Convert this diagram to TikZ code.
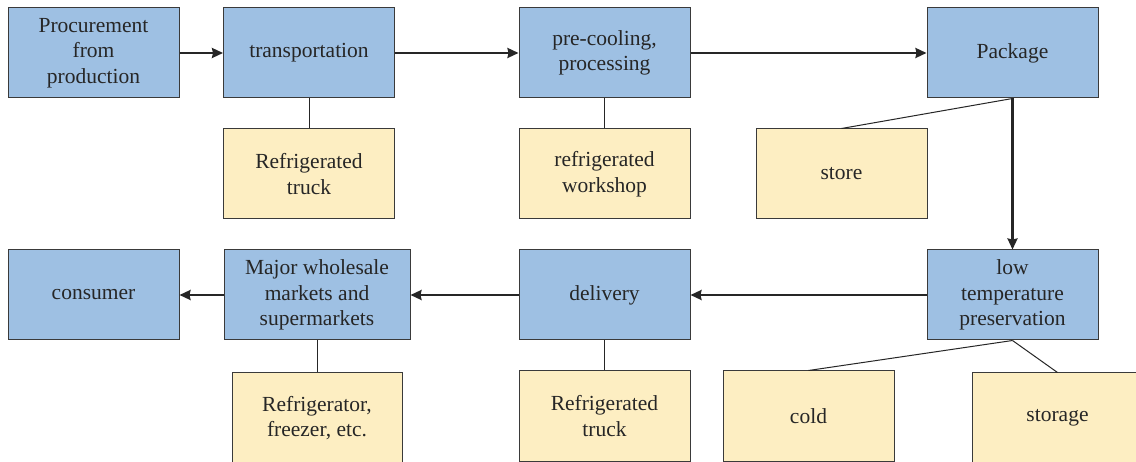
\documentclass[tikz,border=0pt]{standalone}
\usepackage{fontspec}
\setmainfont{Liberation Serif}
\usetikzlibrary{arrows.meta}
\definecolor{bluebox}{RGB}{158,192,227}
\definecolor{yellowbox}{RGB}{253,238,194}
\definecolor{edge}{RGB}{58,58,58}
\tikzset{
  base/.style={draw=edge, line width=1pt, align=center, inner sep=2pt,
    font=\fontsize{21.5}{25.5}\selectfont, text=black!85},
  bluenode/.style={base, fill=bluebox},
  yellownode/.style={base, fill=yellowbox},
  flow/.style={draw=black!85, line width=2.2pt, -{Stealth[length=11pt,width=10pt,inset=1pt]}},
  link/.style={draw=black!85, line width=1pt}
}
\begin{document}
\begin{tikzpicture}[x=1pt,y=-1pt]
\clip (0,0) rectangle (1136,462);
\fill[white] (0,0) rectangle (1136,462);
% top row
\node[bluenode, minimum width=171pt, minimum height=90pt] (proc) at (93.5,53) {Procurement\\from\\production};
\node[bluenode, minimum width=171pt, minimum height=90pt] (trans) at (309,53) {transportation};
\node[bluenode, minimum width=171pt, minimum height=90pt] (pre) at (604.5,53) {pre-cooling,\\processing};
\node[bluenode, minimum width=171pt, minimum height=90pt] (pack) at (1012.5,53) {Package};
% top yellow
\node[yellownode, minimum width=171pt, minimum height=90pt] (truck1) at (309,174) {Refrigerated\\truck};
\node[yellownode, minimum width=171pt, minimum height=90pt] (work) at (604.5,174) {refrigerated\\workshop};
\node[yellownode, minimum width=171pt, minimum height=90pt] (store) at (841.5,174) {store};
% bottom row
\node[bluenode, minimum width=171pt, minimum height=90pt] (cons) at (93.5,295) {consumer};
\node[bluenode, minimum width=186pt, minimum height=90pt] (major) at (317,295) {Major wholesale\\markets and\\supermarkets};
\node[bluenode, minimum width=171pt, minimum height=90pt] (deliv) at (604.5,295) {delivery};
\node[bluenode, minimum width=171pt, minimum height=90pt] (low) at (1012.5,295) {low\\temperature\\preservation};
% bottom yellow
\node[yellownode, minimum width=170pt, minimum height=90pt] (fridge) at (317,418) {Refrigerator,\\freezer, etc.};
\node[yellownode, minimum width=171pt, minimum height=90pt] (truck2) at (604.5,416) {Refrigerated\\truck};
\node[yellownode, minimum width=171pt, minimum height=90pt] (cold) at (808.5,416) {cold};
\node[yellownode, minimum width=171pt, minimum height=90pt] (storage) at (1057.5,418) {storage};
% flow arrows
\draw[flow] (proc) -- (trans);
\draw[flow] (trans) -- (pre);
\draw[flow] (pre) -- (pack);
\draw[flow] (pack.south) -- (low.north);
\draw[flow] (low) -- (deliv);
\draw[flow] (deliv) -- (major);
\draw[flow] (major) -- (cons);
% links
\draw[link] (trans.south) -- (truck1.north);
\draw[link] (pre.south) -- (work.north);
\draw[link] (pack.south) -- (store.north);
\draw[link] (major.south) -- (fridge.north);
\draw[link] (deliv.south) -- (truck2.north);
\draw[link] (low.south) -- (cold.north);
\draw[link] (low.south) -- (storage.north);
\end{tikzpicture}
\end{document}
